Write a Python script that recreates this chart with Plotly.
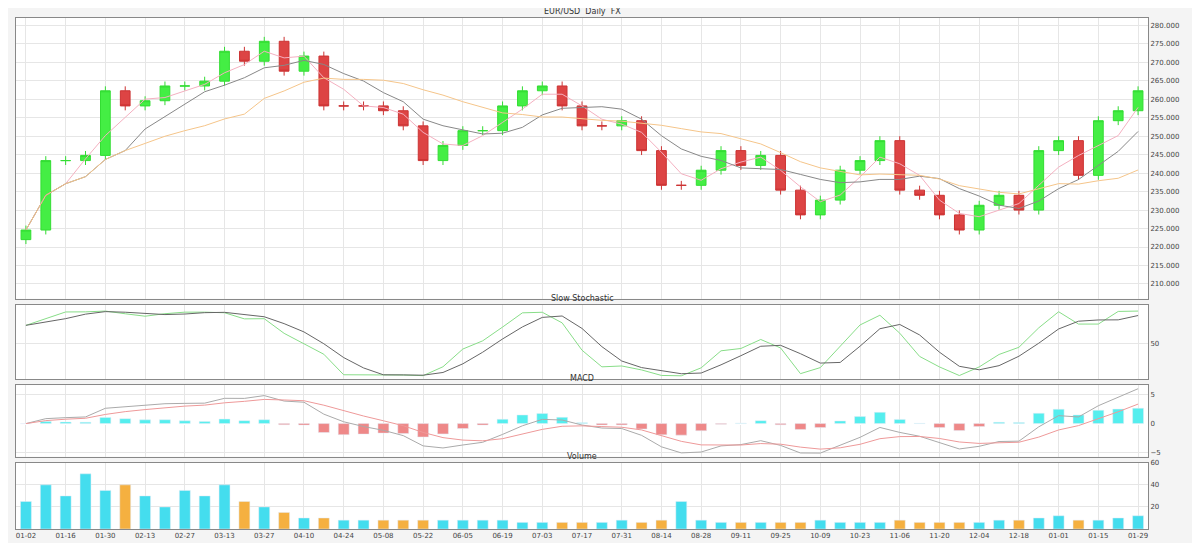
import numpy as np
import pandas as pd
import plotly.graph_objects as go
from plotly.subplots import make_subplots

# closes (roughly one bar every 20px)
closes = [224.6, 243.4, 243.4, 244.8, 262.3, 258.2, 259.6, 263.6, 263.6, 264.9,
          273.0, 270.3, 275.7, 267.6, 271.7, 258.2, 258.2, 258.2, 256.9, 252.8,
          243.4, 247.5, 251.5, 251.5, 258.2, 262.3, 263.6, 258.2, 252.8, 252.8,
          254.2, 246.1, 236.7, 236.7, 240.8, 246.1, 242.1, 244.8, 235.4, 228.7,
          232.7, 240.8, 243.4, 248.8, 235.4, 234.0, 228.7, 224.6, 231.3, 234.0,
          230.0, 246.1, 248.8, 239.4, 254.2, 256.9, 262.3]
opens = [222.0] + closes[:-1]
volumes = [25, 40, 30, 50, 35, 40, 30, 20, 35, 30, 40, 25, 20, 15, 10, 10, 8, 8, 8, 8,
           8, 8, 8, 8, 8, 6, 6, 6, 6, 6, 8, 6, 8, 25, 8, 6, 6, 6, 6, 6,
           8, 6, 6, 6, 8, 6, 6, 6, 6, 8, 8, 10, 12, 8, 8, 10, 12]
dates = pd.date_range("2023-01-02", periods=len(closes), freq="W-MON").strftime("%m-%d").tolist()

c = pd.Series(closes)
o = pd.Series(opens)
high = np.maximum(c, o) + 1.2
low = np.minimum(c, o) - 1.2
ma5 = c.rolling(3, min_periods=1).mean()
ma10 = c.rolling(6, min_periods=1).mean()
ma20 = c.rolling(12, min_periods=1).mean()
lo = low.rolling(6, min_periods=1).min()
hi = high.rolling(6, min_periods=1).max()
k = (100 * (c - lo) / (hi - lo)).rolling(2, min_periods=1).mean()
d = k.rolling(3, min_periods=1).mean()
macd = c.ewm(span=6).mean() - c.ewm(span=13).mean()
sig = macd.ewm(span=5).mean()
hist = macd - sig

fig = make_subplots(rows=4, cols=1, shared_xaxes=True, vertical_spacing=0.012,
                    row_heights=[0.53, 0.14, 0.135, 0.125],
                    subplot_titles=["EUR/USD  Daily  FX", "Slow Stochastic", "MACD", "Volume"])
fig.add_trace(go.Candlestick(x=dates, open=o, high=high, low=low, close=c,
                             increasing=dict(line=dict(color="#33dd33", width=1), fillcolor="#44ee44"),
                             decreasing=dict(line=dict(color="#cc3333", width=1), fillcolor="#dd4444"),
                             whiskerwidth=0), 1, 1)
for s, col in [(ma5, "#f4b0c0"), (ma10, "#888888"), (ma20, "#f5c58a")]:
    fig.add_trace(go.Scatter(x=dates, y=s, mode="lines", line=dict(color=col, width=1)), 1, 1)
fig.add_trace(go.Scatter(x=dates, y=k, mode="lines", line=dict(color="#88dd88", width=1)), 2, 1)
fig.add_trace(go.Scatter(x=dates, y=d, mode="lines", line=dict(color="#666666", width=1)), 2, 1)
fig.add_trace(go.Bar(x=dates, y=hist, marker_color=["#55eeee" if h > 0 else "#ee8888" for h in hist]), 3, 1)
fig.add_trace(go.Scatter(x=dates, y=macd, mode="lines", line=dict(color="#aaaaaa", width=1)), 3, 1)
fig.add_trace(go.Scatter(x=dates, y=sig, mode="lines", line=dict(color="#ee9999", width=1)), 3, 1)
fig.add_trace(go.Bar(x=dates, y=volumes,
                     marker_color=["#44ddee" if cc >= oo else "#f5b040" for cc, oo in zip(closes, opens)]), 4, 1)

fig.update_layout(width=1200, height=543, showlegend=False, plot_bgcolor="white",
                  paper_bgcolor="#f4f4f4", bargap=0.45,
                  margin=dict(l=8, r=60, t=6, b=22), font=dict(family="DejaVu Sans", size=8, color="#444"))
fig.update_xaxes(rangeslider_visible=False, showgrid=True, gridcolor="#e6e6e6",
                 showline=True, linecolor="#888", mirror=True, type="category",
                 tickangle=0, tickfont=dict(size=7), tickvals=dates[::2])
fig.update_yaxes(side="right", showgrid=True, gridcolor="#e6e6e6", showline=True,
                 linecolor="#888", mirror=True, tickfont=dict(size=7))
fig.update_yaxes(dtick=5, tickformat=".3f", range=[206, 282], row=1, col=1)
fig.update_yaxes(range=[0, 105], tickvals=[50], row=2, col=1)
fig.update_yaxes(range=[0, 60], tickvals=[20, 40, 60], row=4, col=1)
fig.update_annotations(font=dict(size=8, color="#333"))
fig.write_html("out.html")
